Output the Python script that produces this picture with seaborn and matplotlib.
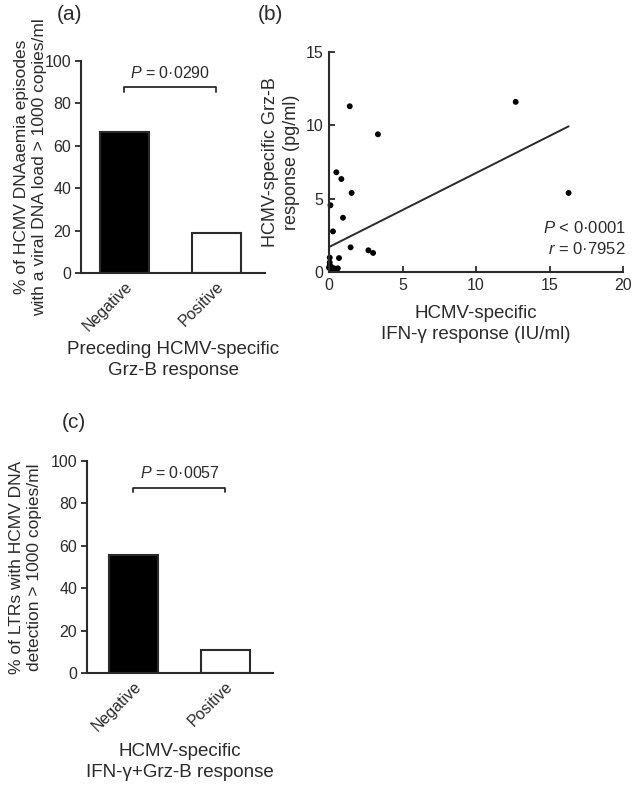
import matplotlib
import numpy as np
import pandas as pd
import matplotlib.pyplot as plt
import seaborn as sns

matplotlib.use("Agg")

# datos
cats = ["Negative", "Positive"]
pct_a = [66.3, 18.9]          # (a) % episodios DNAaemia
pct_c = [55.6, 10.7]          # (c) % LTRs con deteccion
p_text_a = "0·0290"
p_text_c = "0·0057"

# (b) scatter IFN-g vs Grz-B
ifn = [1.41, 12.7, 3.33, 0.50, 0.84, 1.54, 16.3, 0.10, 0.95, 0.27, 1.47, 2.68, 3.00,
       0.68, 0.05, 0.05, 0.00, 0.10, 0.20, 0.35, 0.50, 0.60, 0.15, 0.05]
grzb = [11.3, 11.6, 9.39, 6.80, 6.34, 5.39, 5.39, 4.55, 3.70, 2.77, 1.68, 1.48, 1.30,
        0.95, 0.98, 0.65, 0.30, 0.20, 0.25, 0.25, 0.20, 0.25, 0.35, 0.45]
fit_intercept = 1.70
fit_slope = 0.505
stats_b = "$\\it{P}$ < 0·0001\n$\\it{r}$ = 0·7952"

sns.set_style("ticks")
plt.rcParams['font.family'] = ['Liberation Sans', 'DejaVu Sans']
plt.rcParams['mathtext.fontset'] = 'custom'
plt.rcParams['mathtext.rm'] = 'Liberation Sans'
plt.rcParams['mathtext.it'] = 'Liberation Sans:italic'
ink = '#2a2a2a'
plt.rcParams['text.color'] = ink
plt.rcParams['axes.edgecolor'] = ink
plt.rcParams['xtick.color'] = ink
plt.rcParams['ytick.color'] = ink
plt.rcParams['axes.labelcolor'] = ink
plt.rcParams['axes.linewidth'] = 1.5

W, H = 634, 788
fig = plt.figure(figsize=(W / 100, H / 100), dpi=100)

def px_axes(l, r, b, t):
    return fig.add_axes([l / W, (H - b) / H, (r - l) / W, (b - t) / H])

def bar_panel(ax, vals, ptxt, ylabel, xlabel, xlim, ylab_x, xlab_y):
    df = pd.DataFrame({"cat": cats, "val": vals})
    sns.barplot(data=df, x="cat", y="val", hue="cat", order=cats,
                palette={"Negative": "black", "Positive": "white"},
                edgecolor=ink, linewidth=1.5, width=0.53, legend=False, ax=ax)
    ax.set_ylim(0, 100)
    ax.set_yticks(range(0, 101, 20))
    ax.set_xlim(*xlim)
    sns.despine(ax=ax)
    ax.tick_params(axis='y', labelsize=11.5, length=4, width=1.3, direction='out', pad=3)
    ax.tick_params(axis='x', labelsize=11.5, length=0, pad=4)
    for lab in ax.get_xticklabels():
        lab.set_rotation(45)
        lab.set_ha('right')
        lab.set_rotation_mode('anchor')
    ax.set_ylabel(ylabel, fontsize=12.5, linespacing=1.25)
    ax.yaxis.set_label_coords(ylab_x, 0.5)
    ax.set_xlabel(xlabel, fontsize=13.5, linespacing=1.3)
    ax.xaxis.set_label_coords(0.5, xlab_y)
    # corchete de significancia
    yb = 87.5
    ax.plot([0, 0, 1, 1], [yb - 2, yb, yb, yb - 2], color=ink, lw=1.3)
    ax.text(0.5, yb + 3, "$\\it{P}$ = " + ptxt, ha='center', va='bottom', fontsize=11.5)

# (a)
ax_a = px_axes(81, 265, 273, 61)
bar_panel(ax_a, pct_a, p_text_a,
          "% of HCMV DNAaemia episodes\nwith a viral DNA load > 1000 copies/ml",
          "Preceding HCMV-specific\nGrz-B response", (-0.47, 1.53), -0.185, -0.32)
fig.text(70 / W, 1 - 15 / H, "(a)", fontsize=15, ha='center', va='center')

# (c)
ax_c = px_axes(87, 273, 673, 461)
bar_panel(ax_c, pct_c, p_text_c,
          "% of LTRs with HCMV DNA\ndetection > 1000 copies/ml",
          "HCMV-specific\nIFN-γ+Grz-B response", (-0.505, 1.517), -0.24, -0.33)
fig.text(74 / W, 1 - 422 / H, "(c)", fontsize=15, ha='center', va='center')

# (b)
ax_b = px_axes(329, 623, 272, 52)
sns.scatterplot(x=ifn, y=grzb, color='black', s=18, edgecolor='none', ax=ax_b, clip_on=False)
xs = np.array([min(ifn), max(ifn)])
ax_b.plot(xs, fit_intercept + fit_slope * xs, color=ink, lw=1.4)
ax_b.set_xlim(0, 20)
ax_b.set_ylim(0, 15)
ax_b.set_xticks([0, 5, 10, 15, 20])
ax_b.set_yticks([0, 5, 10, 15])
sns.despine(ax=ax_b)
ax_b.tick_params(labelsize=11.5, length=4, width=1.3, direction='in', pad=4)
ax_b.set_ylabel("HCMV-specific Grz-B\nresponse (pg/ml)", fontsize=13, linespacing=1.25)
ax_b.yaxis.set_label_coords(-0.1, 0.5)
ax_b.set_xlabel("HCMV-specific\nIFN-γ response (IU/ml)", fontsize=13.5, linespacing=1.3)
ax_b.xaxis.set_label_coords(0.5, -0.15)
ax_b.text(20.2, 1.0, stats_b, ha='right', va='bottom', fontsize=12, linespacing=1.4)
fig.text(270 / W, 1 - 14 / H, "(b)", fontsize=15, ha='center', va='center')

fig.savefig("out.png", dpi=100)
